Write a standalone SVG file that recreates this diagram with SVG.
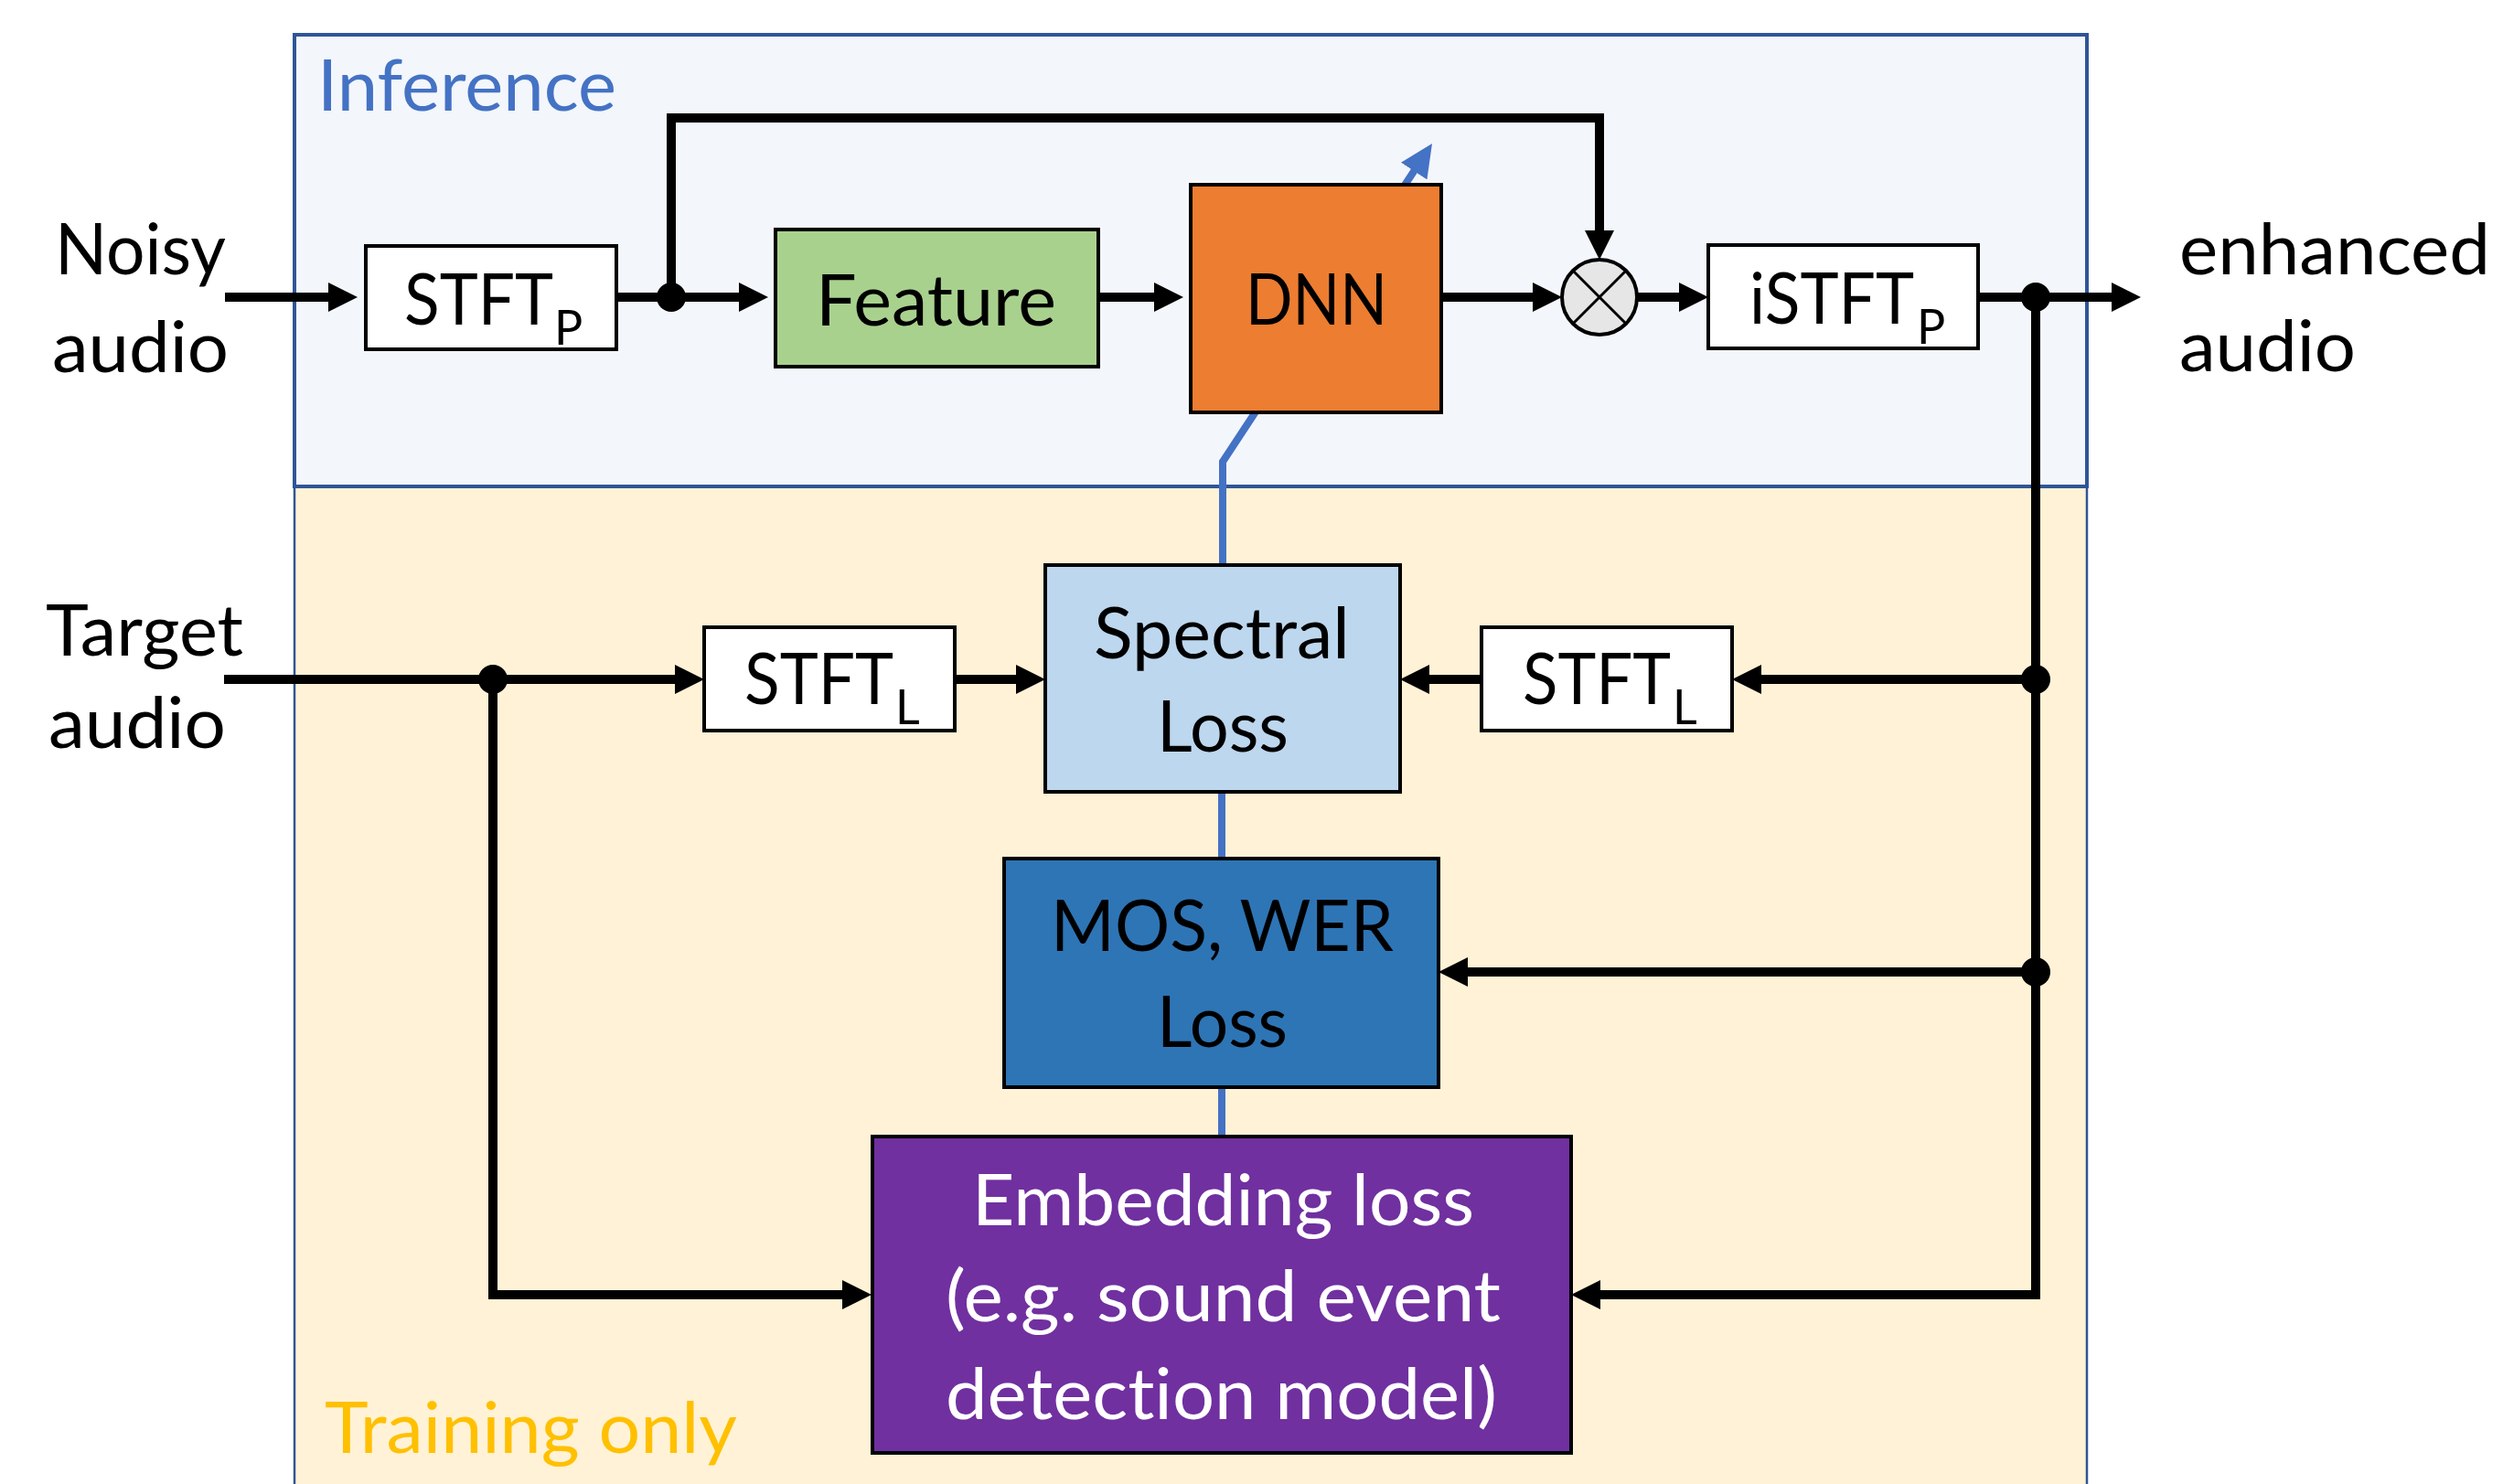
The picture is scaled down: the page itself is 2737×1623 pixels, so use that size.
<svg xmlns="http://www.w3.org/2000/svg" width="2737" height="1623" viewBox="0 0 2737 1623">
<style>
.t{font-family:Lato,"Open Sans","Liberation Sans",sans-serif;font-size:77px;fill:#000;font-variant-ligatures:none}
.s{font-size:52px}
.w{fill:#fff}
.box{stroke:#000;stroke-width:4}
.c{fill:none;stroke:#000;stroke-width:10}
.b{fill:none;stroke:#4472C4;stroke-width:8}
.dot{fill:#000}
</style>
<defs>
<marker id="ah" viewBox="0 0 32 32" refX="20" refY="16" markerWidth="32" markerHeight="32" markerUnits="userSpaceOnUse" orient="auto"><path d="M0,0 L32,16 L0,32 Z" fill="#000"/></marker>
<marker id="bh" viewBox="0 0 36 34" refX="22" refY="17" markerWidth="36" markerHeight="34" markerUnits="userSpaceOnUse" orient="auto"><path d="M0,0 L36,17 L0,34 Z" fill="#4472C4"/></marker>
</defs>
<g id="training">
<rect x="322" y="532" width="1960" height="1110" fill="#FFF2D6" stroke="#2F5597" stroke-width="2.5"/>
<text class="t" x="355" y="1589" style="fill:#FFC000" textLength="451" lengthAdjust="spacingAndGlyphs">Training only</text>
</g>
<g id="inference">
<rect x="322" y="38" width="1960" height="494" fill="#F3F6FB" stroke="#2F5597" stroke-width="4"/>
<text class="t" x="347" y="121" style="fill:#4472C4" textLength="327" lengthAdjust="spacingAndGlyphs">Inference</text>
</g>
<g id="connectors">
<path class="c" d="M246,325 H379" marker-end="url(#ah)"/>
<path class="c" d="M674,325 H828" marker-end="url(#ah)"/>
<path class="c" d="M734,325 V129 H1749 V272" marker-end="url(#ah)"/>
<path class="c" d="M1201,325 H1282" marker-end="url(#ah)"/>
<path class="c" d="M1576,325 H1696" marker-end="url(#ah)"/>
<path class="c" d="M1790,325 H1856" marker-end="url(#ah)"/>
<path class="c" d="M2163,325 H2329" marker-end="url(#ah)"/>
<path class="c" d="M2226,325 V1416 H1730" marker-end="url(#ah)"/>
<path class="c" d="M2226,743 H1906" marker-end="url(#ah)"/>
<path class="c" d="M1620,743 H1543" marker-end="url(#ah)"/>
<path class="c" d="M2226,1063 H1585" marker-end="url(#ah)"/>
<path class="c" d="M245,743 H758" marker-end="url(#ah)"/>
<path class="c" d="M1044,743 H1131" marker-end="url(#ah)"/>
<path class="c" d="M539,743 V1416 H941" marker-end="url(#ah)"/>
<path class="b" d="M1337,618 V505 L1558.3,168.7" marker-end="url(#bh)"/>
<path class="b" d="M1336,866 V939"/>
<path class="b" d="M1336,1189 V1243"/>
<circle class="dot" cx="734" cy="325" r="16"/>
<circle class="dot" cx="2226" cy="325" r="16"/>
<circle class="dot" cx="2226" cy="743" r="16"/>
<circle class="dot" cx="2226" cy="1063" r="16"/>
<circle class="dot" cx="539" cy="743" r="16"/>
</g>
<g id="noisy">
<text class="t" x="60" y="300" textLength="187" lengthAdjust="spacingAndGlyphs">Noisy</text>
<text class="t" x="57" y="407" textLength="193" lengthAdjust="spacingAndGlyphs">audio</text>
</g>
<g id="stftp">
<rect class="box" x="400" y="269" width="274" height="113" fill="#fff"/>
<text class="t"><tspan x="442" y="355" textLength="163" lengthAdjust="spacingAndGlyphs">STFT</tspan><tspan class="s" x="606" y="377">P</tspan></text>
</g>
<g id="feature">
<rect class="box" x="848" y="251" width="353" height="150" fill="#A9D18E"/>
<text class="t" x="892" y="356" textLength="263" lengthAdjust="spacingAndGlyphs">Feature</text>
</g>
<g id="dnn">
<rect class="box" x="1302" y="202" width="274" height="249" fill="#ED7D31"/>
<text class="t" x="1362" y="355" textLength="155" lengthAdjust="spacingAndGlyphs">DNN</text>
</g>
<g id="mult">
<circle cx="1749" cy="325" r="41" fill="#E7E6E6" stroke="#000" stroke-width="4"/>
<path d="M1720,296 L1778,354 M1778,296 L1720,354" stroke="#000" stroke-width="3"/>
</g>
<g id="istftp">
<rect class="box" x="1868" y="268" width="295" height="113" fill="#fff"/>
<text class="t"><tspan x="1913" y="354" textLength="180" lengthAdjust="spacingAndGlyphs">iSTFT</tspan><tspan class="s" x="2096" y="376">P</tspan></text>
</g>
<g id="enhanced">
<text class="t" x="2383" y="300" textLength="340" lengthAdjust="spacingAndGlyphs">enhanced</text>
<text class="t" x="2383" y="406" textLength="193" lengthAdjust="spacingAndGlyphs">audio</text>
</g>
<g id="target">
<text class="t" x="50" y="717" textLength="216" lengthAdjust="spacingAndGlyphs">Target</text>
<text class="t" x="53" y="818" textLength="194" lengthAdjust="spacingAndGlyphs">audio</text>
</g>
<g id="stftl1">
<rect class="box" x="770" y="686" width="274" height="113" fill="#fff"/>
<text class="t"><tspan x="814" y="770" textLength="163" lengthAdjust="spacingAndGlyphs">STFT</tspan><tspan class="s" x="979" y="792">L</tspan></text>
</g>
<g id="spectral">
<rect class="box" x="1143" y="618" width="388" height="248" fill="#BDD7EE"/>
<text class="t" x="1196" y="720" textLength="280" lengthAdjust="spacingAndGlyphs">Spectral</text>
<text class="t" x="1265" y="822" textLength="144" lengthAdjust="spacingAndGlyphs">Loss</text>
</g>
<g id="stftl2">
<rect class="box" x="1620" y="686" width="274" height="113" fill="#fff"/>
<text class="t"><tspan x="1665" y="770" textLength="162" lengthAdjust="spacingAndGlyphs">STFT</tspan><tspan class="s" x="1829" y="792">L</tspan></text>
</g>
<g id="moswer">
<rect class="box" x="1098" y="939" width="475" height="250" fill="#2E75B6"/>
<text class="t" x="1149" y="1040" textLength="375" lengthAdjust="spacingAndGlyphs">MOS, WER</text>
<text class="t" x="1265" y="1145" textLength="143" lengthAdjust="spacingAndGlyphs">Loss</text>
</g>
<g id="embedding">
<rect class="box" x="954" y="1243" width="764" height="346" fill="#7030A0"/>
<text class="t w" x="1063" y="1340" textLength="549" lengthAdjust="spacingAndGlyphs">Embedding loss</text>
<text class="t w" x="1034" y="1445" textLength="607" lengthAdjust="spacingAndGlyphs">(e.g. sound event</text>
<text class="t w" x="1034" y="1552" textLength="603" lengthAdjust="spacingAndGlyphs">detection model)</text>
</g>
</svg>
